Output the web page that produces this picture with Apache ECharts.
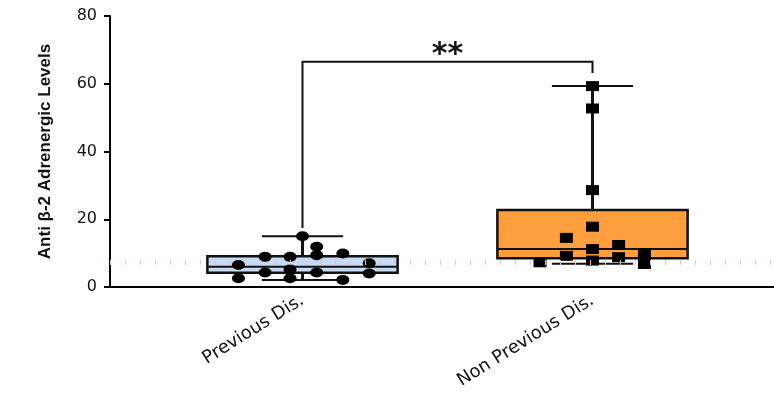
<!DOCTYPE html>
<html>
<head>
<meta charset="utf-8">
<script src="https://cdn.jsdelivr.net/npm/echarts@6/dist/echarts.min.js"></script>
<style>html,body{margin:0;padding:0;background:#fff}#c{width:774px;height:402px}</style>
</head>
<body>
<div id="c"></div>
<script>
// ---- data ----
const categories = ['Previous Dis.', 'Non Previous Dis.'];
const yTicks = [0, 20, 40, 60, 80];
// box stats: [min, Q1, median, Q3, max]
const prevBox = [2.1, 4.2, 6.0, 9.1, 15.0];
const nonBox  = [6.9, 8.5, 11.2, 22.7, 59.3];
const prevValues = [15.0, 11.9, 8.9, 8.9, 9.4, 9.9, 6.5, 7.0, 4.3, 5.2, 4.3, 4.0, 2.6, 2.6, 2.1];
const prevJitter = [0, 0.049, -0.129, -0.043, 0.049, 0.139, -0.221, 0.230, -0.129, -0.043, 0.049, 0.230, -0.221, -0.043, 0.139];
const nonValues = [59.3, 52.7, 28.6, 17.8, 14.5, 12.4, 11.2, 9.2, 8.8, 9.9, 7.8, 7.3, 6.8];
const nonJitter = [0, 0, 0, 0, -0.09, 0.09, 0, -0.09, 0.09, 0.179, 0, -0.181, 0.179];
const refLine = 7.3;
const sigBracket = { left: 17.4, top: 66.5, right: 63.2, label: '**' };

// ---- layout ----
const boxHalf = 0.328, capHalf = 0.14;
const xMin = 1 - (302.5 - 110) / 290;
const xMax = 2 + (774 - 592.5) / 290;

const boxData = [[1].concat(prevBox), [2].concat(nonBox)];
const boxFill = ['#c6daf3', '#fd9f3e'];

const chart = echarts.init(document.getElementById('c'), null, {renderer: 'canvas'});
chart.setOption({
  animation: false,
  grid: {left: 110, right: 0, top: 16, bottom: 115},
  xAxis: {
    type: 'value', min: xMin, max: xMax,
    axisLine: {show: true, lineStyle: {color: '#000', width: 2}},
    axisTick: {show: false},
    splitLine: {show: false},
    axisLabel: {
      customValues: [1, 2],
      formatter: v => categories[Math.round(v) - 1] || '',
      rotate: 32, fontSize: 18, color: '#111', fontFamily: 'DejaVu Sans', margin: 12
    }
  },
  yAxis: {
    type: 'value', min: 0, max: 80, interval: 20,
    name: 'Anti β-2 Adrenergic Levels', nameLocation: 'middle', nameGap: 56,
    nameTextStyle: {fontFamily: 'Liberation Sans Narrow, Liberation Sans, Arial', fontWeight: 'bold', fontSize: 17, color: '#111'},
    axisLine: {show: true, lineStyle: {color: '#000', width: 2}},
    axisTick: {show: true, length: 6, lineStyle: {color: '#000', width: 2}},
    splitLine: {show: false},
    axisLabel: {fontSize: 16, color: '#111', fontFamily: 'DejaVu Sans', margin: 13,
      formatter: v => yTicks.indexOf(v) >= 0 ? String(v) : ''}
  },
  series: [
    {
      type: 'line', data: [], silent: true,
      markLine: {
        silent: true, symbol: 'none', label: {show: false},
        lineStyle: {color: '#f7bcc7', width: 5, type: [1, 14]},
        data: [{yAxis: refLine}]
      }
    },
    {
      type: 'custom',
      data: boxData,
      encode: {x: 0, y: [1, 2, 3, 4, 5]},
      renderItem: function (params, api) {
        const cx = api.value(0);
        const pMin = api.coord([cx, api.value(1)]);
        const pQ1 = api.coord([cx, api.value(2)]);
        const pMed = api.coord([cx, api.value(3)]);
        const pQ3 = api.coord([cx, api.value(4)]);
        const pMax = api.coord([cx, api.value(5)]);
        const hw = api.size([boxHalf, 0])[0];
        const cw = api.size([capHalf, 0])[0];
        const x = pMed[0];
        const st = {stroke: '#111', lineWidth: 2, fill: null};
        return {type: 'group', children: [
          {type: 'line', shape: {x1: x, y1: pQ3[1], x2: x, y2: pMax[1]}, style: {stroke: '#111', lineWidth: 3}},
          {type: 'line', shape: {x1: x, y1: pQ1[1], x2: x, y2: pMin[1]}, style: {stroke: '#111', lineWidth: 3}},
          {type: 'line', shape: {x1: x - cw, y1: pMax[1], x2: x + cw, y2: pMax[1]}, style: st},
          {type: 'line', shape: {x1: x - cw, y1: pMin[1], x2: x + cw, y2: pMin[1]}, style: st},
          {type: 'rect', shape: {x: x - hw, y: pQ3[1], width: 2 * hw, height: pQ1[1] - pQ3[1]},
            style: {fill: boxFill[params.dataIndex], stroke: '#111', lineWidth: 2.5}},
          {type: 'line', shape: {x1: x - hw, y1: pMed[1], x2: x + hw, y2: pMed[1]}, style: st}
        ]};
      }
    },
    {
      type: 'custom',
      data: [[1, 2, sigBracket.left, sigBracket.top, sigBracket.right]],
      encode: {x: [0, 1], y: [2, 3, 4]},
      renderItem: function (params, api) {
        const a = api.coord([api.value(0), api.value(2)]);
        const b = api.coord([api.value(0), api.value(3)]);
        const c = api.coord([api.value(1), api.value(3)]);
        const d = api.coord([api.value(1), api.value(4)]);
        return {type: 'group', children: [
          {type: 'polyline', shape: {points: [a, b, c, d]}, style: {stroke: '#111', lineWidth: 2, fill: null}},
          {type: 'text', style: {text: sigBracket.label, x: (b[0] + c[0]) / 2, y: b[1] - 7,
            align: 'center', verticalAlign: 'middle', fontSize: 30, fontWeight: 'bold', fill: '#111',
            fontFamily: 'DejaVu Sans'}}
        ]};
      }
    },
    {
      type: 'scatter', symbol: 'circle', symbolSize: [13, 10],
      itemStyle: {color: '#000', opacity: 1},
      data: prevValues.map((v, i) => [1 + prevJitter[i], v])
    },
    {
      type: 'scatter', symbol: 'rect', symbolSize: [13, 10],
      itemStyle: {color: '#000', opacity: 1},
      data: nonValues.map((v, i) => [2 + nonJitter[i], v])
    }
  ]
});
</script>
</body>
</html>
